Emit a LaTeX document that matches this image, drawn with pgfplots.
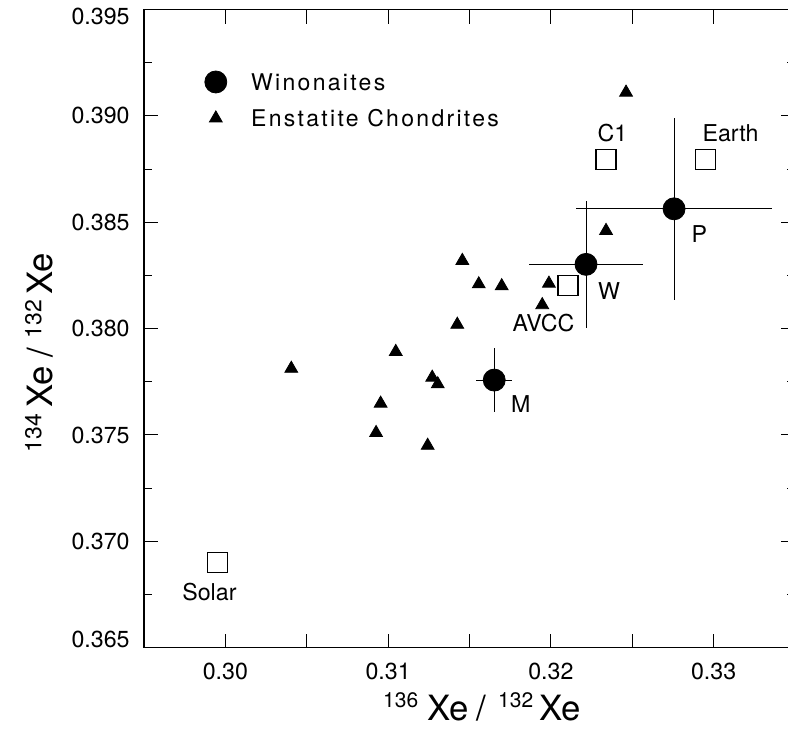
\documentclass[border=0pt]{standalone}
\usepackage{fontspec}
\setmainfont{TeX Gyre Heros}
\newfontfamily\legendfont[LetterSpace=10]{TeX Gyre Heros}
\usepackage{pgfplots}
\pgfplotsset{compat=1.18}
\newcommand{\lab}{\fontsize{11.6}{13}\selectfont}
\newcommand{\iso}[1]{\raisebox{6.4pt}{\fontsize{10.5}{10.5}\selectfont #1}}
\newcommand{\isoy}[1]{\raisebox{5.8pt}{\fontsize{11.5}{11.5}\selectfont #1}}
\begin{document}
\begin{tikzpicture}
\begin{axis}[
  scale only axis, width=325.5pt, height=319.1pt,
  xmin=0.295, xmax=0.335, ymin=0.365, ymax=0.395,
  scaled ticks=false,
  axis line style={line width=0.6pt, black},
  tick align=inside,
  major tick length=7pt, minor tick length=4pt,
  tick style={line width=0.5pt, black},
  xtick={0.295,0.300,0.305,0.310,0.315,0.320,0.325,0.330,0.335},
  xticklabels={{},0.30,{},0.31,{},0.32,{},0.33,{}},
  ytick={0.365,0.370,0.375,0.380,0.385,0.390,0.395},
  yticklabels={{\raisebox{0.3pt}[0pt][0pt]{0.365}},0.370,0.375,0.380,0.385,0.390,{\raisebox{-7.4pt}[0pt][0pt]{0.395}}},
  minor y tick num=1,
  x tick label style={font=\lab, inner sep=0pt, anchor=north, yshift=-7.5pt},
  y tick label style={font=\lab, inner sep=0pt, anchor=east, xshift=-7pt},
  xlabel={\fontsize{17.4}{20}\selectfont\iso{136}\hspace{4.5pt}Xe\hspace{4pt}/\hspace{6pt}\iso{132}\hspace{3pt}Xe},
  xlabel style={at={(axis description cs:0.519,0)}, anchor=base, yshift=-36.2pt, inner sep=0pt},
  ylabel={\fontsize{17.4}{20}\selectfont\isoy{134}\hspace{3.5pt}Xe\hspace{4pt}/\hspace{5pt}\isoy{132}\hspace{2.5pt}Xe},
  ylabel style={at={(axis description cs:-0.1398,0.462)}, anchor=base, inner sep=0pt},
  legend style={at={(axis description cs:0.0829,0.9043)}, anchor=north west, draw=none, fill=none, inner sep=0pt, row sep=8.5pt,
    nodes={inner sep=0pt, text height=8.3pt, text depth=0pt, font=\legendfont\fontsize{11.5}{13}\selectfont}},
  legend cell align=left,
  legend image code/.code={\path (0cm,0cm) (0.915cm,0cm); \draw[mark repeat=2,mark phase=2,#1] plot coordinates {(0cm,0cm)(0.3cm,0cm)(0.915cm,0cm)};},
]
\addplot[only marks, mark=*, mark size=5.5pt, black,
  error bars/.cd, x dir=both, x explicit, y dir=both, y explicit, error mark=none,
  error bar style={line width=0.5pt, black}]
  coordinates {
  (0.31652,0.37758) +- (0.00112,0.00149)
  (0.32216,0.38302) +- (0.00348,0.00300)
  (0.32757,0.38563) +- (0.00604,0.00428)
  };
\addlegendentry{Winonaites}
\addplot[only marks, mark=triangle*, mark size=3.7pt, black]
  coordinates {
  (0.31456,0.38319)
  (0.31557,0.38209)
  (0.31698,0.38200)
  (0.31988,0.38212)
  (0.31947,0.38111)
  (0.31425,0.38019)
  (0.31047,0.37891)
  (0.30405,0.37812)
  (0.31271,0.37770)
  (0.31305,0.37739)
  (0.30954,0.37648)
  (0.30926,0.37510)
  (0.31243,0.37450)
  (0.32339,0.38460)
  (0.32462,0.39110)
  };
\addlegendentry{Enstatite Chondrites}
\addplot[only marks, mark=square, mark size=5pt, black, mark options={line width=0.8pt}, forget plot]
  coordinates {
  (0.29952,0.36901)
  (0.32339,0.38794)
  (0.32949,0.38794)
  (0.32106,0.38202)
  };
\node[anchor=base, font=\lab, inner sep=0pt] at (axis cs:0.29902,0.36720) {Solar};
\node[anchor=base, font=\lab, inner sep=0pt] at (axis cs:0.32379,0.38878) {C1};
\node[anchor=base, font=\lab, inner sep=0pt] at (axis cs:0.33104,0.38878) {Earth};
\node[anchor=base, font=\lab, inner sep=0pt] at (axis cs:0.32913,0.38403) {P};
\node[anchor=base, font=\lab, inner sep=0pt] at (axis cs:0.32358,0.38139) {W};
\node[anchor=base, font=\lab, inner sep=0pt] at (axis cs:0.31955,0.37985) {AVCC};
\node[anchor=base, font=\lab, inner sep=0pt] at (axis cs:0.31815,0.37604) {M};
\end{axis}
\pgfresetboundingbox
\path[use as bounding box] (-72pt,-43.15pt) rectangle (322pt,323.85pt);
\end{tikzpicture}
\end{document}
